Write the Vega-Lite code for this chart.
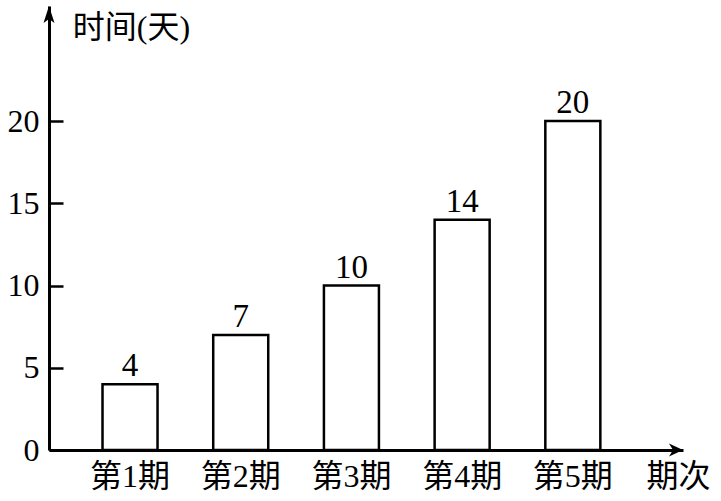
{
  "$schema": "https://vega.github.io/schema/vega-lite/v6.json",
  "width": 634,
  "height": 444,
  "autosize": {"type": "none"},
  "padding": {"left": 49, "top": 6, "right": 38, "bottom": 51},
  "background": "white",
  "config": {
    "view": {"stroke": null},
    "font": "Liberation Serif, Noto Sans CJK SC"
  },
  "data": {
    "values": [
      {"period": "第1期", "days": 4},
      {"period": "第2期", "days": 7},
      {"period": "第3期", "days": 10},
      {"period": "第4期", "days": 14},
      {"period": "第5期", "days": 20}
    ]
  },
  "layer": [
    {
      "encoding": {
        "x": {
          "field": "period",
          "type": "nominal",
          "sort": null,
          "scale": {
            "type": "band",
            "domain": ["第1期", "第2期", "第3期", "第4期", "第5期"],
            "paddingInner": 0.503,
            "paddingOuter": 0.615,
            "align": 0.393
          },
          "axis": {
            "title": "期次",
            "titleX": 629,
            "titleY": 26,
            "titleAlign": "center",
            "titleBaseline": "middle",
            "titleFont": "Liberation Serif, Noto Sans CJK SC",
            "titleFontSize": 32,
            "titleFontWeight": "normal",
            "titleColor": "black",
            "labelFont": "Liberation Serif, Noto Sans CJK SC",
            "labelFontSize": 32,
            "labelColor": "black",
            "labelAngle": 0,
            "labelBaseline": "middle",
            "labelPadding": 26,
            "ticks": false,
            "tickSize": 0,
            "domainWidth": 3,
            "domainColor": "black",
            "grid": false
          }
        },
        "y": {
          "field": "days",
          "type": "quantitative",
          "scale": {"domain": [0, 27], "nice": false, "zero": true},
          "axis": {
            "values": [0, 5, 10, 15, 20],
            "title": "时间(天)",
            "titleAngle": 0,
            "titleX": 82,
            "titleY": 21,
            "titleAlign": "center",
            "titleBaseline": "middle",
            "titleFont": "Liberation Serif, Noto Sans CJK SC",
            "titleFontSize": 32,
            "titleFontWeight": "normal",
            "titleColor": "black",
            "labelFont": "Liberation Serif, Noto Sans CJK SC",
            "labelFontSize": 32,
            "labelColor": "black",
            "labelPadding": 24,
            "tickSize": -14,
            "tickWidth": 2.5,
            "tickColor": "black",
            "domainWidth": 3,
            "domainColor": "black",
            "grid": false
          }
        }
      },
      "layer": [
        {
          "mark": {"type": "bar", "fill": "white", "stroke": "black", "strokeWidth": 2.5}
        },
        {
          "mark": {
            "type": "text",
            "baseline": "alphabetic",
            "dy": -8,
            "fontSize": 33,
            "font": "Liberation Serif, Noto Sans CJK SC",
            "color": "black"
          },
          "encoding": {"text": {"field": "days", "type": "quantitative"}}
        }
      ]
    },
    {
      "data": {"values": [{}]},
      "mark": {
        "type": "point",
        "shape": "M0,0L-0.55,1.7L0,1.3L0.55,1.7Z",
        "size": 400,
        "filled": true,
        "color": "black",
        "opacity": 1,
        "strokeWidth": 0
      },
      "encoding": {
        "x": {"datum": 0, "type": "quantitative", "scale": {"domain": [0, 1], "nice": false, "zero": false}, "axis": null},
        "y": {"datum": 27, "type": "quantitative", "scale": {"domain": [0, 27], "nice": false}}
      }
    },
    {
      "data": {"values": [{}]},
      "mark": {
        "type": "point",
        "shape": "M0,0L-1.4,-0.65L-1.0,0L-1.4,0.65Z",
        "size": 400,
        "filled": true,
        "color": "black",
        "opacity": 1,
        "strokeWidth": 0
      },
      "encoding": {
        "x": {"datum": 1, "type": "quantitative", "scale": {"domain": [0, 1], "nice": false, "zero": false}, "axis": null},
        "y": {"datum": 0, "type": "quantitative", "scale": {"domain": [0, 27], "nice": false}}
      }
    }
  ],
  "resolve": {"scale": {"x": "independent"}}
}
